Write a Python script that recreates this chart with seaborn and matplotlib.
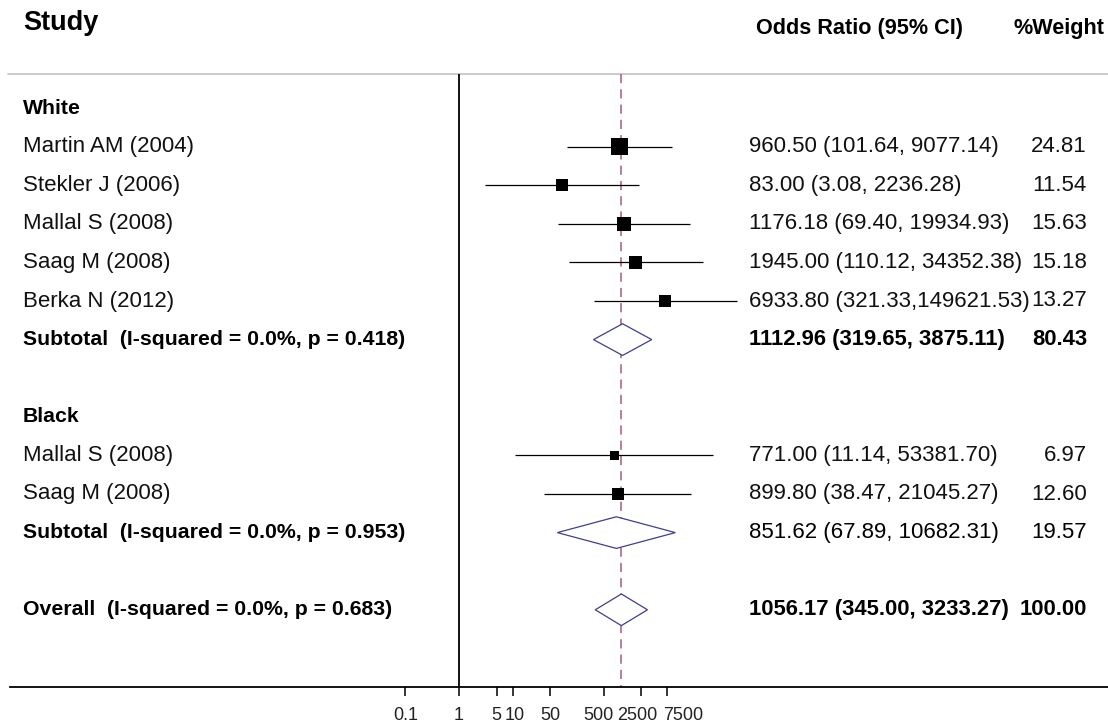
import numpy as np
import pandas as pd
import matplotlib
matplotlib.use('Agg')
import matplotlib.pyplot as plt
import matplotlib.transforms as mtransforms
import seaborn as sns

# DATA

group_labels = ['White', 'Black']
group_rows = [0, 8]

study_labels = ['Martin AM (2004)', 'Stekler J (2006)', 'Mallal S (2008)', 'Saag M (2008)',
                'Berka N (2012)', 'Mallal S (2008)', 'Saag M (2008)']
study_or = [960.50, 83.00, 1176.18, 1945.00, 6933.80, 771.00, 899.80]
study_lo = [101.64, 3.08, 69.40, 110.12, 321.33, 11.14, 38.47]
study_hi = [9077.14, 2236.28, 19934.93, 34352.38, 149621.53, 53381.70, 21045.27]
study_wt = [24.81, 11.54, 15.63, 15.18, 13.27, 6.97, 12.60]
study_rows = [1, 2, 3, 4, 5, 9, 10]

pooled_labels = ['Subtotal  (I-squared = 0.0%, p = 0.418)',
                 'Subtotal  (I-squared = 0.0%, p = 0.953)',
                 'Overall  (I-squared = 0.0%, p = 0.683)']
pooled_or = [1112.96, 851.62, 1056.17]
pooled_lo = [319.65, 67.89, 345.00]
pooled_hi = [3875.11, 10682.31, 3233.27]
pooled_wt = [80.43, 19.57, 100.00]
pooled_rows = [6, 11, 13]
pooled_bold = [True, False, True]

tick_values = [0.1, 1, 5, 10, 50, 500, 2500, 7500]
tick_labels = ['0.1', '1', '5', '10', '50', '500', '2500', '7500']
# small horizontal nudges of the crowded tick labels (pixels)
tick_nudge = [0, 0, 0, 2, 0, -5, -4, 16]

df = pd.DataFrame({'study': study_labels, 'OR': study_or, 'lo': study_lo,
                   'hi': study_hi, 'weight': study_wt, 'row': study_rows})

# LAYOUT (pixels of the 1108x725 figure)
W, H = 1108, 725
px_per_dec = 53.7
null_px = 459
row0_px, row_px = 108, 38.6
axis_row = 15.0
top_row = -0.88

def ci_text(o, l, h):
    s = f'{o:.2f} ({l:.2f}, {h:.2f})'
    if len(s) > 26:
        s = s.replace(', ', ',')
    return s

sns.set_theme(style='white')
plt.rcParams['font.family'] = ['Liberation Sans', 'DejaVu Sans']
plt.rcParams['text.color'] = 'black'

fig = plt.figure(figsize=(W / 100, H / 100), dpi=100)
ax = fig.add_axes([0, 0, 1, 1])
ax.set_xscale('log')
ax.set_xlim(10 ** (-null_px / px_per_dec), 10 ** ((W - null_px) / px_per_dec))
ax.set_ylim((H - row0_px) / row_px, -row0_px / row_px)

# header rule, null line, overall line
ax.axhline(top_row, xmin=8 / W, xmax=1, color='#c8c8c8', lw=1.3)
ax.vlines(1, top_row, axis_row, color='black', lw=1.3)
ax.vlines(pooled_or[-1], top_row, axis_row, color='#a85a78', lw=1.1,
          linestyles=(0, (6, 4)))

# study confidence intervals and squares
ax.hlines(df['row'], df['lo'], df['hi'], color='black', lw=0.9)
k = 6.03
sns.scatterplot(data=df, x='OR', y='row', size='weight',
                sizes=(k * df['weight'].min(), k * df['weight'].max()),
                size_norm=(df['weight'].min(), df['weight'].max()),
                marker='s', color='black', edgecolor='black', linewidth=0,
                legend=False, ax=ax, zorder=3)

# pooled diamonds
h = 0.41
for o, l, hi, r in zip(pooled_or, pooled_lo, pooled_hi, pooled_rows):
    ax.fill([l, o, hi, o, l], [r, r - h, r, r + h, r], facecolor='white',
            edgecolor='#3f3f8e', lw=0.9, zorder=3)

# text columns
tr = ax.get_yaxis_transform()
fs = 16
fs_b = 15.3
x_lab, x_ci, x_wt = 23 / W, 749 / W, 1087 / W
ax.text(x_lab, -2.2, 'Study', transform=tr, fontsize=19.5, fontweight='bold', va='center')
ax.text(756 / W, -2.07, 'Odds Ratio (95% CI)', transform=tr, fontsize=15.6,
        fontweight='bold', va='center')
ax.text(1104 / W, -2.07, '%Weight', transform=tr, fontsize=15.6, fontweight='bold',
        va='center', ha='right')

for lab, r in zip(group_labels, group_rows):
    ax.text(x_lab, r, lab, transform=tr, fontsize=fs_b, fontweight='bold', va='center')

for lab, o, l, hi, w, r in zip(study_labels, study_or, study_lo, study_hi, study_wt, study_rows):
    ax.text(x_lab, r, lab, transform=tr, fontsize=fs, va='center', color='#111111')
    ax.text(x_ci, r, ci_text(o, l, hi), transform=tr, fontsize=fs, va='center', color='#111111')
    ax.text(x_wt, r, f'{w:.2f}', transform=tr, fontsize=fs, va='center', ha='right', color='#111111')

for lab, o, l, hi, w, r, b in zip(pooled_labels, pooled_or, pooled_lo, pooled_hi,
                                  pooled_wt, pooled_rows, pooled_bold):
    if b:
        wt, size = 'bold', 15.8
    else:
        wt, size = 'normal', fs
    ax.text(x_lab, r, lab, transform=tr, fontsize=fs_b, fontweight='bold', va='center')
    ax.text(x_ci, r, ci_text(o, l, hi), transform=tr, fontsize=size, fontweight=wt, va='center')
    ax.text(x_wt, r, f'{w:.2f}', transform=tr, fontsize=size, fontweight=wt,
            va='center', ha='right')

# x axis drawn at the bottom row
for side in ['top', 'left', 'right']:
    ax.spines[side].set_visible(False)
ax.spines['bottom'].set_position(('data', axis_row))
ax.spines['bottom'].set_color('black')
ax.spines['bottom'].set_linewidth(1.3)
ax.spines['bottom'].set_bounds(10 ** ((10 - null_px) / px_per_dec), ax.get_xlim()[1])
ax.set_xticks(tick_values)
ax.set_xticklabels(tick_labels)
ax.xaxis.set_minor_locator(matplotlib.ticker.NullLocator())
ax.tick_params(axis='x', bottom=True, direction='out', length=6.5, width=1.1,
               color='black', pad=8, labelsize=13, labelcolor='#222222')
for lab, dx in zip(ax.get_xticklabels(), tick_nudge):
    lab.set_transform(lab.get_transform() +
                      mtransforms.ScaledTranslation(dx / 100, 0, fig.dpi_scale_trans))
ax.set_yticks([])
ax.set_xlabel('')
ax.set_ylabel('')

fig.savefig('out.png', dpi=100)
